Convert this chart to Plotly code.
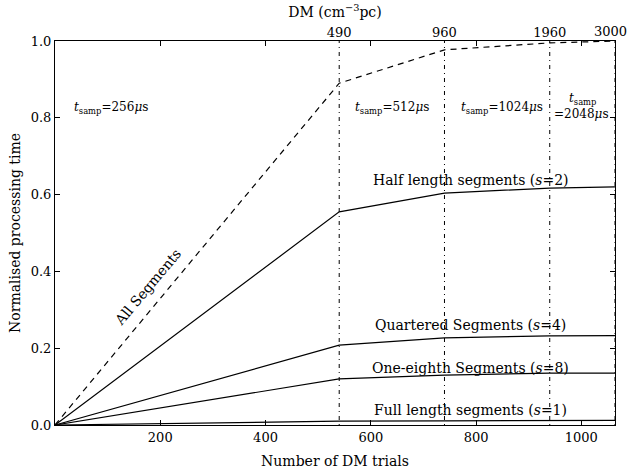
import plotly.graph_objects as go

# Data
boundaries = [0, 540, 740, 940, 1064]
dm_labels = ["490", "960", "1960", "3000"]
all_segments = [0.0, 0.89, 0.977, 0.995, 1.0]
half_segments = [0.0, 0.555, 0.604, 0.617, 0.62]
quarter_segments = [0.0, 0.208, 0.227, 0.232, 0.233]
eighth_segments = [0.0, 0.12, 0.13, 0.135, 0.135]
full_segments = [0.0, 0.01, 0.011, 0.012, 0.012]

FONT = "DejaVu Serif"
fig = go.Figure()

# vertical boundaries
for xv in boundaries[1:]:
    fig.add_trace(go.Scatter(x=[xv, xv], y=[0, 1], mode="lines",
                             line=dict(color="black", width=1, dash="1px,4px,4px,4px"),
                             showlegend=False, hoverinfo="skip"))

fig.add_trace(go.Scatter(x=boundaries, y=all_segments, mode="lines",
                         line=dict(color="black", width=1.2, dash="6px,5px"), showlegend=False))
for ys in [half_segments, quarter_segments, eighth_segments, full_segments]:
    fig.add_trace(go.Scatter(x=boundaries, y=ys, mode="lines",
                             line=dict(color="black", width=1.2), showlegend=False))

# invisible trace for top axis
fig.add_trace(go.Scatter(x=[boundaries[0], boundaries[-1]], y=[0, 0], xaxis="x2",
                         mode="markers", marker=dict(opacity=0), showlegend=False, hoverinfo="skip"))

ann_font = dict(family=FONT, size=14, color="black")
small_font = dict(family=FONT, size=12, color="black")
annotations = [
    dict(x=32, y=0.825, text="<i>t</i><sub>samp</sub>=256<i>μ</i>s", xanchor="left", font=small_font),
    dict(x=567, y=0.825, text="<i>t</i><sub>samp</sub>=512<i>μ</i>s", xanchor="left", font=small_font),
    dict(x=767, y=0.825, text="<i>t</i><sub>samp</sub>=1024<i>μ</i>s", xanchor="left", font=small_font),
    dict(x=972, y=0.85, text="<i>t</i><sub>samp</sub>", xanchor="left", font=small_font),
    dict(x=945, y=0.81, text="=2048<i>μ</i>s", xanchor="left", font=small_font),
    dict(x=176, y=0.36, text="All Segments", textangle=-50, font=ann_font),
    dict(x=790, y=0.638, text="Half length segments (<i>s</i>=2)", font=ann_font),
    dict(x=790, y=0.26, text="Quartered Segments (<i>s</i>=4)", font=ann_font),
    dict(x=790, y=0.148, text="One-eighth Segments (<i>s</i>=8)", font=ann_font),
    dict(x=790, y=0.038, text="Full length segments (<i>s</i>=1)", font=ann_font),
]
for a in annotations:
    a.update(xref="x", yref="y", showarrow=False)
# last top-axis label, nudged left so it stays inside the page
annotations.append(dict(x=boundaries[-1], y=1, xref="x", yref="paper", text=dm_labels[-1],
                        showarrow=False, xanchor="right", yanchor="bottom", xshift=14, yshift=0,
                        font=dict(family=FONT, size=13, color="black")))

fig.update_layout(
    width=629, height=472,
    margin=dict(l=55, r=14, t=41, b=47, autoexpand=False),
    paper_bgcolor="white", plot_bgcolor="white",
    font=dict(family=FONT, size=13, color="black"),
    annotations=annotations,
    xaxis=dict(range=[boundaries[0], boundaries[-1]], tickvals=[200, 400, 600, 800, 1000],
               ticks="inside", ticklen=5, tickcolor="black", showline=True, linecolor="black",
               linewidth=1, mirror="ticks", showgrid=False, zeroline=False, automargin=False,
               title=dict(text="Number of DM trials", font=dict(family=FONT, size=14), standoff=12)),
    xaxis2=dict(overlaying="x", side="top", range=[boundaries[0], boundaries[-1]],
                tickvals=boundaries[1:-1], ticktext=dm_labels[:-1], ticks="", showgrid=False,
                zeroline=False, showline=False, automargin=False,
                title=dict(text="DM (cm<sup>−3</sup>pc)", font=dict(family=FONT, size=14), standoff=4)),
    yaxis=dict(range=[0, 1], tickvals=[0, 0.2, 0.4, 0.6, 0.8, 1.0], tickformat=".1f",
               ticks="inside", ticklen=5, tickcolor="black", showline=True, linecolor="black",
               linewidth=1, mirror="ticks", showgrid=False, zeroline=False, automargin=False,
               title=dict(text="Normalised processing time", font=dict(family=FONT, size=14), standoff=6)),
)

fig.write_html("out.html", config={"displayModeBar": False})
with open("out.html", "r", encoding="utf-8") as f:
    html = f.read()
html = html.replace("<head>", "<head><style>html,body{margin:0;padding:0;overflow:hidden;}</style>", 1)
with open("out.html", "w", encoding="utf-8") as f:
    f.write(html)
